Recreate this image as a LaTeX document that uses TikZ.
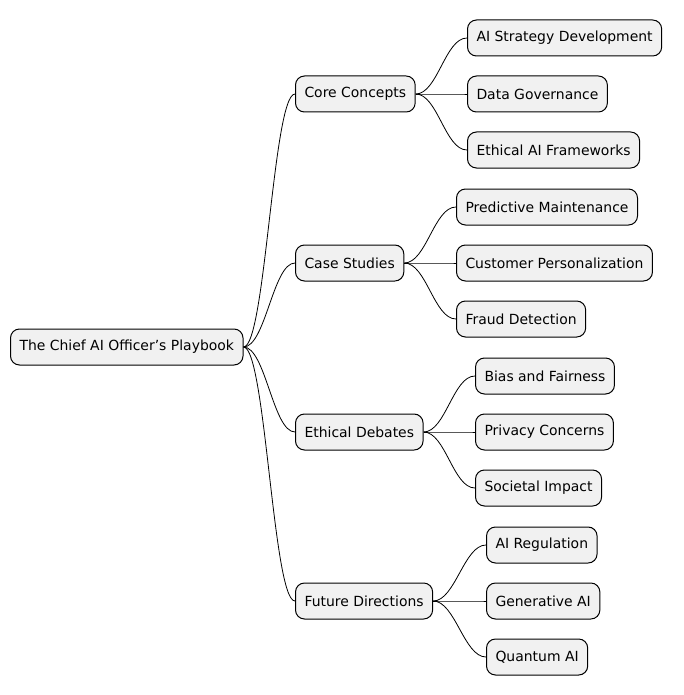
\documentclass[tikz,border=0pt]{standalone}
\usepackage{fontspec}
\setmainfont{DejaVu Sans}
\usetikzlibrary{positioning}
\definecolor{boxfill}{HTML}{F1F1F1}
\tikzset{
  topic/.style={rectangle, rounded corners=9bp, draw=black, line width=1bp, fill=boxfill, anchor=west,
    minimum height=36bp, inner xsep=9bp, font=\fontsize{14}{16}\selectfont},
  branch/.style={black, line width=0.8bp}
}
\begin{document}
\begin{tikzpicture}[x=1bp, y=-1bp]
    \useasboundingbox (0,0) rectangle (684,695);
    \node (root) [topic] at (10,347) {The Chief AI Officer’s Playbook};

    \node (core) [topic] at (295,94) {Core Concepts};
    \node (cases) [topic] at (295,263) {Case Studies};
    \node (ethics) [topic] at (295,432) {Ethical Debates};
    \node (future) [topic] at (295,601) {Future Directions};

    \node (strat) [topic] at (467,38) {AI Strategy Development};
    \node (gov) [topic] at (467,94) {Data Governance};
    \node (frame) [topic] at (467,150) {Ethical AI Frameworks};
    \node (maint) [topic] at (456,207) {Predictive Maintenance};
    \node (pers) [topic] at (456,263) {Customer Personalization};
    \node (fraud) [topic] at (456,319) {Fraud Detection};
    \node (bias) [topic] at (475,376) {Bias and Fairness};
    \node (priv) [topic] at (475,432) {Privacy Concerns};
    \node (soc) [topic] at (475,488) {Societal Impact};
    \node (reg) [topic] at (486,545) {AI Regulation};
    \node (gen) [topic] at (486,601) {Generative AI};
    \node (quant) [topic] at (486,657) {Quantum AI};

    \foreach \p/\c in {root/core, root/cases, root/ethics, root/future,
        core/strat, core/gov, core/frame, cases/maint, cases/pers, cases/fraud,
        ethics/bias, ethics/priv, ethics/soc, future/reg, future/gen, future/quant}
        \draw [branch] (\p.east) .. controls +(22,0) and +(-22,0) .. (\c.west);
\end{tikzpicture}
\end{document}
